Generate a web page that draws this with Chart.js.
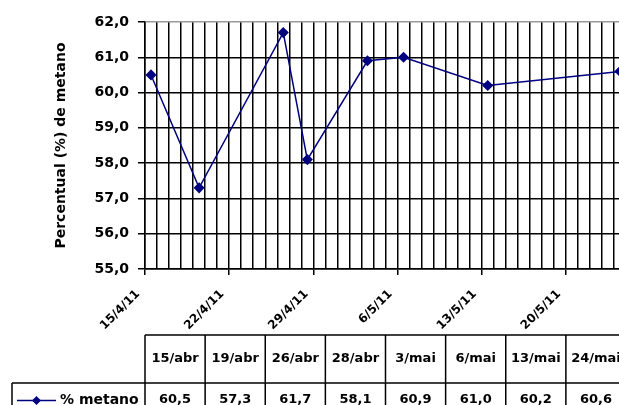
<!DOCTYPE html>
<html><head><meta charset="utf-8">
<script src="https://cdn.jsdelivr.net/npm/chart.js@4"></script>
<style>html,body{margin:0;padding:0;overflow:hidden;background:#fff;width:619px;height:405px}canvas{display:block}</style>
</head><body>
<canvas id="c" width="640" height="405"></canvas>
<script>
// sampling dates, table headers and methane share
const sampleDates = ['2011-04-15','2011-04-19','2011-04-26','2011-04-28','2011-05-03','2011-05-06','2011-05-13','2011-05-24'];
const tableLabels = ['15/abr','19/abr','26/abr','28/abr','3/mai','6/mai','13/mai','24/mai'];
const metano = [60.5, 57.3, 61.7, 58.1, 60.9, 61.0, 60.2, 60.6];
const axisStart = '2011-04-15';
const axisDays = 40;
const seriesName = '% metano';
const yTitle = 'Percentual (%) de metano';

const DAY = 86400000;
const t0 = Date.parse(axisStart);
const dayOf = s => Math.round((Date.parse(s) - t0) / DAY);
// points sit in the middle of their day cell, like Excel's date axis
const points = sampleDates.map((d, i) => ({x: dayOf(d) + 0.5, y: metano[i]}));
const fmt = v => v.toFixed(1).replace('.', ',');
const dayLabel = v => {
  const d = new Date(t0 + v * DAY);
  return d.getUTCDate() + '/' + (d.getUTCMonth() + 1) + '/' + String(d.getUTCFullYear()).slice(2);
};
const FONT = 'DejaVu Sans';
const NAVY = '#000080';

const tablePlugin = {
  id: 'dataTable',
  afterDraw(chart) {
    const {ctx, chartArea: a} = chart;
    const n = tableLabels.length, colW = a.width / n;
    const r1 = 335, r2 = 383, r3 = 420, x0 = 12;
    ctx.save();
    ctx.strokeStyle = '#000';
    ctx.lineWidth = 1.5;
    ctx.beginPath();
    ctx.moveTo(a.left, r1); ctx.lineTo(a.right + 20, r1);
    ctx.moveTo(x0, r2); ctx.lineTo(a.right + 20, r2);
    ctx.moveTo(x0, r2); ctx.lineTo(x0, r3);
    for (let i = 0; i <= n; i++) {
      const x = a.left + i * colW;
      ctx.moveTo(x, r1); ctx.lineTo(x, r3);
    }
    ctx.stroke();

    ctx.fillStyle = '#000';
    ctx.font = 'bold 13px "' + FONT + '"';
    ctx.textAlign = 'center';
    ctx.textBaseline = 'middle';
    for (let i = 0; i < n; i++) {
      const cx = a.left + (i + 0.5) * colW;
      ctx.fillText(tableLabels[i], cx, 359);
      ctx.fillText(fmt(metano[i]), cx, 400);
    }

    // legend key in the row header
    ctx.strokeStyle = NAVY;
    ctx.lineWidth = 1.5;
    ctx.beginPath();
    ctx.moveTo(17, 400.5); ctx.lineTo(56, 400.5);
    ctx.stroke();
    ctx.fillStyle = NAVY;
    ctx.beginPath();
    ctx.moveTo(36.5, 396); ctx.lineTo(41, 400.5); ctx.lineTo(36.5, 405); ctx.lineTo(32, 400.5);
    ctx.closePath(); ctx.fill();
    ctx.fillStyle = '#000';
    ctx.textAlign = 'left';
    ctx.font = 'bold 14px "' + FONT + '"';
    ctx.fillText(seriesName, 60, 400);
    ctx.restore();
  }
};

new Chart(document.getElementById('c'), {
  type: 'line',
  data: {
    datasets: [{
      label: seriesName,
      data: points,
      borderColor: NAVY,
      backgroundColor: NAVY,
      borderWidth: 1.5,
      pointStyle: 'rectRot',
      pointRadius: 4.5,
      fill: false,
      tension: 0
    }]
  },
  options: {
    responsive: false,
    animation: false,
    layout: {padding: {left: 50, top: 22, right: 14, bottom: 0}},
    plugins: {legend: {display: false}, tooltip: {enabled: false}},
    scales: {
      x: {
        type: 'linear',
        min: 0, max: axisDays,
        afterFit: s => { s.height = 136; s.paddingRight = 0; },
        border: {color: '#000', width: 1.5},
        grid: {
          color: '#000', lineWidth: 1.5, tickLength: 6,
          tickColor: c => (c.tick && c.tick.value % 7 === 0) ? '#000' : 'rgba(0,0,0,0)'
        },
        ticks: {
          stepSize: 1, autoSkip: false, maxTicksLimit: 100,
          minRotation: 45, maxRotation: 45, padding: 12, labelOffset: -7,
          color: '#000',
          font: {family: FONT, size: 12, weight: 'bold'},
          callback: v => v % 7 === 0 ? dayLabel(v) : ''
        }
      },
      y: {
        min: 55, max: 62,
        afterFit: s => { s.width = 95; },
        border: {color: '#000', width: 1.5},
        grid: {
          color: c => (c.tick && c.tick.value === 62) ? '#999' : '#000',
          lineWidth: 1.5, tickLength: 7, tickColor: '#000'
        },
        ticks: {
          stepSize: 1, padding: 9, color: '#000',
          font: {family: FONT, size: 14, weight: 'bold'},
          callback: v => fmt(v)
        },
        title: {
          display: true, text: yTitle, color: '#000',
          font: {family: FONT, size: 14, weight: 'bold'},
          padding: {top: 3, bottom: 0}
        }
      }
    }
  },
  plugins: [tablePlugin]
});
</script>
</body></html>
